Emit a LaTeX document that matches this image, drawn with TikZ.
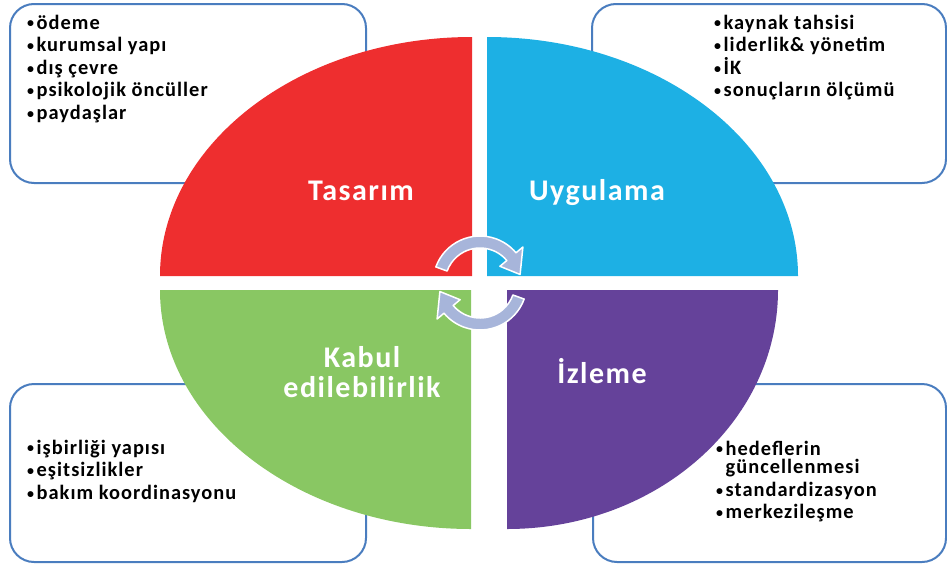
\documentclass[tikz,border=0pt]{standalone}
\usepackage{fontspec}
\setmainfont{Carlito}[LetterSpace=5]
\definecolor{boxblue}{HTML}{4A7DBF}
\definecolor{qred}{HTML}{EE2E2F}
\definecolor{qblue}{HTML}{1DB0E4}
\definecolor{qgreen}{HTML}{89C763}
\definecolor{qpurple}{HTML}{65429A}
\definecolor{arrowfill}{HTML}{A7B5DA}
% small list bullet
\newcommand\bul{\raisebox{1.2pt}{\fontsize{14}{14}\selectfont•}\hspace{2.5pt}}
\begin{document}
\begin{tikzpicture}[x=1pt,y=1pt,
  infobox/.style={draw=boxblue, line width=2pt, rounded corners=24pt, fill=white},
  listtext/.style={anchor=base west, align=left, inner sep=0pt,
    font=\bfseries\fontsize{20.4}{22.6}\selectfont, text=black},
  phase/.style={text=white, font=\bfseries\fontsize{30}{30}\selectfont,
    inner sep=0pt, anchor=base, align=center},
  cyclearrow/.style={fill=arrowfill, draw=white, line width=1.5pt, line join=round}]
\useasboundingbox (0,0) rectangle (947,-565);

% four rounded info boxes
\draw[infobox] (10,-4) rectangle (366,-183);
\draw[infobox] (592,-4) rectangle (946,-183);
\draw[infobox] (10,-384) rectangle (366,-562);
\draw[infobox] (593,-384) rectangle (946,-562);

% quarter segments of the cycle
\fill[qred] (472,-276) -- (160,-276) arc[start angle=180, end angle=90, x radius=312, y radius=239] -- cycle;
\fill[qblue] (487,-276) -- (798,-276) arc[start angle=0, end angle=90, x radius=311, y radius=239] -- cycle;
\fill[qgreen] (471,-290) -- (160,-290) arc[start angle=180, end angle=270, x radius=311, y radius=239] -- cycle;
\fill[qpurple] (507,-290) -- (778,-290) arc[start angle=0, end angle=-90, x radius=271, y radius=239] -- cycle;

% phase labels (base anchor = baseline of the last line)
\node[phase] (tasarim) at (361,-200) {Tasarım};
\node[phase] (uygulama) at (597,-200) {Uygulama};
\node[phase] (kabul) at (362,-397) {Kabul\\[0pt]edilebilirlik};
\node[phase] (izleme) at (602,-383) {İzleme};

% circular arrows in the middle
\begin{scope}[shift={(480,-283)}]
  \draw[cyclearrow] (160:47) arc[start angle=160, end angle=40, radius=47]
    -- (40:56) -- (12:41) -- (40:26) -- (40:35)
    arc[start angle=40, end angle=160, radius=35] -- cycle;
  \draw[cyclearrow, rotate=180] (160:47) arc[start angle=160, end angle=40, radius=47]
    -- (40:56) -- (12:41) -- (40:26) -- (40:35)
    arc[start angle=40, end angle=160, radius=35] -- cycle;
\end{scope}

% bullet lists, each placed at the baseline of its last line
\node[listtext] (designlist) at (27,-119.4)
  {\bul ödeme\\\bul kurumsal yapı\\\bul dış çevre\\\bul psikolojik öncüller\\\bul paydaşlar};
\node[listtext] (applylist) at (714,-96.8)
  {\bul kaynak tahsisi\\\bul liderlik\& yönetim\\\bul İK\\\bul sonuçların ölçümü};
\node[listtext] (acceptlist) at (27,-499.2)
  {\bul işbirliği yapısı\\\bul eşitsizlikler\\\bul bakım koordinasyonu};
\node[listtext] (monitorlist) at (716,-518.8)
  {\bul hedeflerin\\[-4pt]\phantom{\bul}güncellenmesi\\\bul standardizasyon\\\bul merkezileşme};
\end{tikzpicture}
\end{document}
